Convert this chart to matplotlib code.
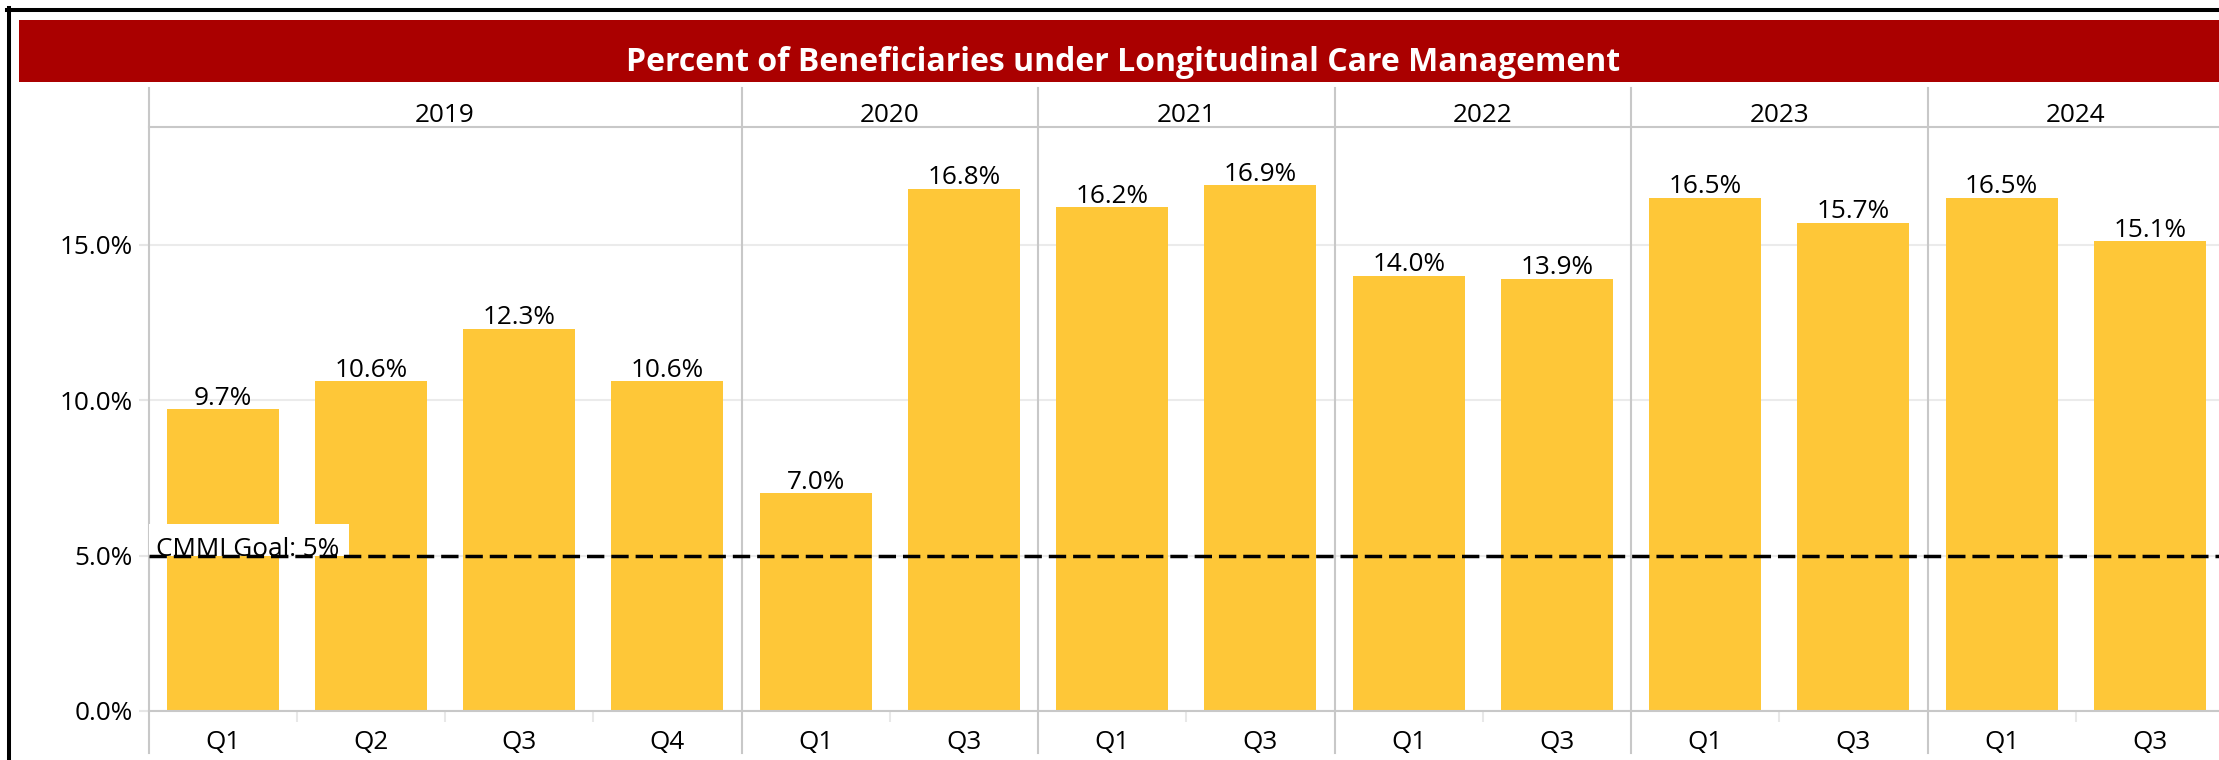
import numpy as np
import matplotlib
matplotlib.use("Agg")
import matplotlib.pyplot as plt
from matplotlib.patches import Rectangle
from matplotlib.lines import Line2D
from matplotlib.transforms import blended_transform_factory

plt.rcParams['font.family'] = ['Open Sans', 'DejaVu Sans']

title = "Percent of Beneficiaries under Longitudinal Care Management"
years = ["2019", "2020", "2021", "2022", "2023", "2024"]
quarters_per_year = [4, 2, 2, 2, 2, 2]
quarters = ["Q1", "Q2", "Q3", "Q4", "Q1", "Q3", "Q1", "Q3",
            "Q1", "Q3", "Q1", "Q3", "Q1", "Q3"]
values = [9.7, 10.6, 12.3, 10.6, 7.0, 16.8, 16.2, 16.9,
          14.0, 13.9, 16.5, 15.7, 16.5, 15.1]
y_ticks = [0, 5, 10, 15]
goal = 5.0
goal_label = "CMMI Goal: 5%"

W, H = 2219, 760
FS = 18.8
GRAY = '#c8c8c8'


def fx(px):
    return px / W


def fy(py):
    return 1 - py / H


fig = plt.figure(figsize=(W / 100, H / 100), dpi=100)

# plot area (runs slightly past the right edge like the original)
ax = fig.add_axes([fx(148.6), fy(711), (2224 - 148.6) / W, (711 - 127) / H])
x = np.arange(len(values))
bars = ax.bar(x, values, width=0.755, color='#FEC738', zorder=2)
ax.bar_label(bars, labels=[f"{v:.1f}%" for v in values], padding=-1,
             fontsize=FS, color='black')

ax.set_xlim(-0.5, len(values) - 0.5)
ax.set_ylim(0, 18.78)
ax.set_yticks(y_ticks)
ax.set_yticklabels([f"{t:.1f}%" for t in y_ticks])
ax.set_xticks(x)
ax.set_xticklabels(quarters)
ax.yaxis.grid(True, color='#ebebeb', lw=1.5)
ax.set_axisbelow(True)
ax.tick_params(axis='y', length=7.2, width=1.5, color='#e6e6e6', pad=4,
               labelsize=FS)
ax.tick_params(axis='x', which='major', length=0, pad=14, labelsize=FS)

bounds = np.concatenate([[0], np.cumsum(quarters_per_year)]) - 0.5
minor = [i + 0.5 for i in range(len(values) - 1) if (i + 0.5) not in bounds]
ax.set_xticks(minor, minor=True)
ax.tick_params(axis='x', which='minor', length=8, width=1.5, color='#e8e8e8')

for side in ['left', 'right']:
    ax.spines[side].set_visible(False)
for side in ['top', 'bottom']:
    ax.spines[side].set_color(GRAY)
    ax.spines[side].set_linewidth(1.5)

# year header and group separators
trans = blended_transform_factory(ax.transData, ax.transAxes)
for b in bounds:
    ax.plot([b, b], [-0.072, 1.0668], transform=trans, color=GRAY, lw=1.5,
            clip_on=False, zorder=1)
for i, yr in enumerate(years):
    ax.text((bounds[i] + bounds[i + 1]) / 2, 1.02, yr, transform=trans,
            ha='center', va='center', fontsize=FS)

# goal line with its label
ax.add_patch(Rectangle((-0.5, goal), 1.35, 1.0, facecolor='white',
                       edgecolor='none', zorder=3))
ax.text(-0.45, goal, goal_label, fontsize=FS, va='baseline', ha='left',
        zorder=4)
ax.axhline(goal, color='black', lw=2.5, dashes=(5, 2), zorder=5)

# title banner
fig.add_artist(Rectangle((fx(19), fy(82)), 1 - fx(19), (82 - 20) / H,
                         transform=fig.transFigure, facecolor='#AA0000',
                         edgecolor='none'))
fig.text(fx(1123), fy(71), title, color='white', fontweight='bold',
         fontsize=23, ha='center', va='baseline')

# outer frame (left and top edges)
fig.add_artist(Line2D([fx(9), fx(9)], [fy(8), 0], color='black', lw=2.9,
                      transform=fig.transFigure))
fig.add_artist(Line2D([fx(7), 1], [fy(10), fy(10)], color='black', lw=2.9,
                      transform=fig.transFigure))

fig.savefig('out.png', dpi=100)
